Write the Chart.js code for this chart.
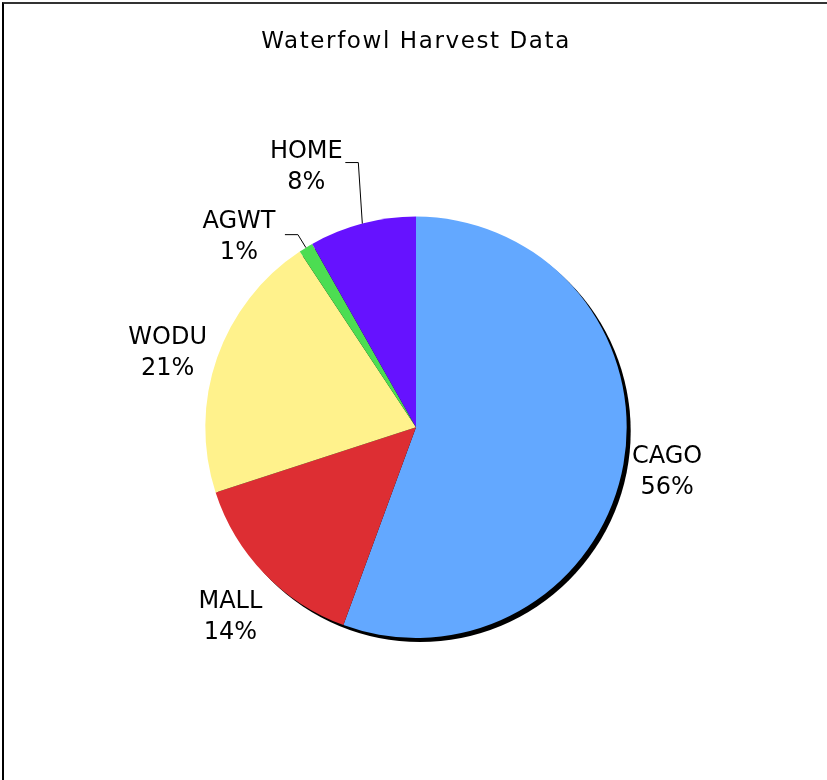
<!DOCTYPE html>
<html>
<head>
<meta charset="utf-8">
<script src="https://cdn.jsdelivr.net/npm/chart.js@4"></script>
<style>
  html, body { margin: 0; padding: 0; background: #fff; overflow: hidden; }
  #wrap { position: relative; width: 827px; height: 780px; }
  #frame { position: absolute; left: 2px; top: 2px; width: 900px; height: 900px;
           border-top: 2px solid #333; border-left: 2px solid #000; pointer-events: none; }
</style>
</head>
<body>
<div id="wrap">
  <canvas id="pie" width="827" height="780"></canvas>
  <div id="frame"></div>
</div>
<script>
// data, clockwise from 12 o'clock
const species = ['CAGO', 'MALL', 'WODU', 'AGWT', 'HOME'];
const harvestPct = [55.6, 14.4, 20.7, 1.1, 8.2];
const sliceColors = ['#63A8FF', '#DD2E33', '#FFF28C', '#4CDD52', '#6612FF'];

// label placement per slice (distance from centre + nudge, or a leader line)
const labelPlace = [
  { dist: 255, nudge: [0, 0] },
  { dist: 266, nudge: [6, 5] },
  { dist: 262, nudge: [-1, 12] },
  { leader: [-8, -13], tail: 13, text: [-46, 2] },
  { leader: [-4, -61], tail: 13, text: [-39, 4] }
];

const font = "'DejaVu Sans', Verdana, sans-serif";

// the title is drawn by Chart.js; widen its tracking a bit like the original
const spacingPlugin = {
  id: 'titleSpacing',
  beforeDraw(chart) { chart.ctx.letterSpacing = '1.6px'; },
  beforeDatasetsDraw(chart) { chart.ctx.letterSpacing = '0px'; }
};

const shadowPlugin = {
  id: 'shadow',
  beforeDatasetsDraw(chart) {
    const arc = chart.getDatasetMeta(0).data[0];
    if (!arc) return;
    const ctx = chart.ctx;
    ctx.save();
    ctx.fillStyle = '#000';
    ctx.beginPath();
    ctx.arc(arc.x + 4, arc.y + 4, arc.outerRadius, 0, Math.PI * 2);
    ctx.fill();
    ctx.restore();
  }
};

const labelPlugin = {
  id: 'sliceLabels',
  afterDatasetsDraw(chart) {
    const ctx = chart.ctx;
    const total = harvestPct.reduce((a, b) => a + b, 0);
    ctx.save();
    ctx.font = '24px ' + font;
    ctx.fillStyle = '#000';
    ctx.textAlign = 'center';
    ctx.textBaseline = 'middle';
    chart.getDatasetMeta(0).data.forEach((arc, i) => {
      const mid = (arc.startAngle + arc.endAngle) / 2;
      const cx = Math.cos(mid), cy = Math.sin(mid);
      const lines = [species[i], Math.round(harvestPct[i] / total * 100) + '%'];
      const p = labelPlace[i];
      let tx, ty;
      if (p.leader) {
        const ex = arc.x + cx * arc.outerRadius, ey = arc.y + cy * arc.outerRadius;
        const bx = ex + p.leader[0], by = ey + p.leader[1];
        const endX = bx - p.tail;
        ctx.strokeStyle = '#000';
        ctx.lineWidth = 1;
        ctx.beginPath();
        ctx.moveTo(ex, ey);
        ctx.lineTo(bx, by);
        ctx.lineTo(endX, by);
        ctx.stroke();
        tx = endX + p.text[0];
        ty = by + p.text[1];
      } else {
        tx = arc.x + cx * p.dist + p.nudge[0];
        ty = arc.y + cy * p.dist + p.nudge[1];
      }
      ctx.fillText(lines[0], tx, ty - 15);
      ctx.fillText(lines[1], tx, ty + 16);
    });
    ctx.restore();
  }
};

new Chart(document.getElementById('pie'), {
  type: 'pie',
  data: {
    labels: species,
    datasets: [{
      data: harvestPct,
      backgroundColor: sliceColors,
      borderWidth: 0
    }]
  },
  options: {
    responsive: false,
    animation: false,
    layout: { padding: { left: 205, right: 200, top: 0, bottom: 142 } },
    plugins: {
      legend: { display: false },
      tooltip: { enabled: false },
      title: {
        display: true,
        text: 'Waterfowl Harvest Data',
        color: '#000',
        font: { family: font, size: 23, weight: 'normal' },
        padding: { top: 28, bottom: 161 }
      }
    }
  },
  plugins: [spacingPlugin, shadowPlugin, labelPlugin]
});
</script>
</body>
</html>
